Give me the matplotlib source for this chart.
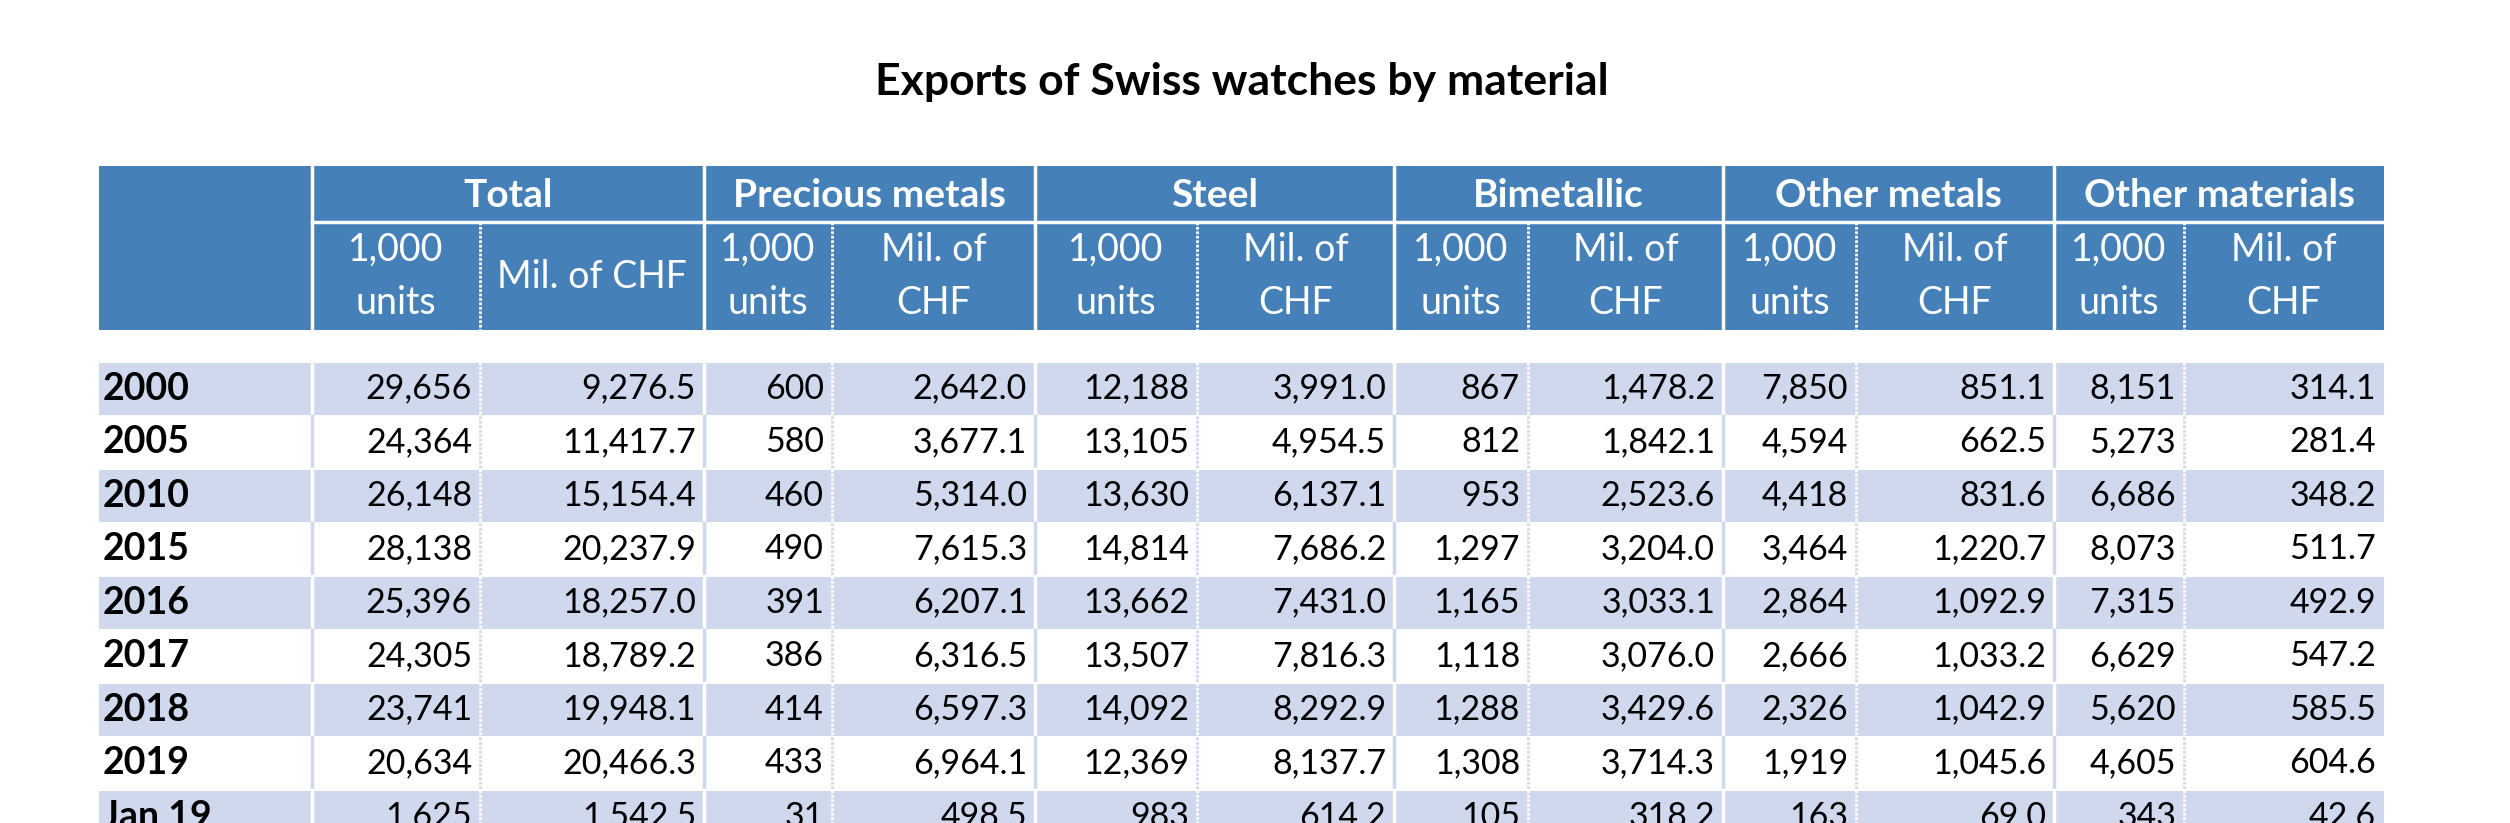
import matplotlib.pyplot as plt
from matplotlib.patches import Rectangle

plt.rcParams['font.family'] = ['Lato', 'DejaVu Sans']

title = 'Exports of Swiss watches by material'
groups = ['Total', 'Precious metals', 'Steel', 'Bimetallic', 'Other metals', 'Other materials']
rows = ['2000', '2005', '2010', '2015', '2016', '2017', '2018', '2019', 'Jan 19']

total_units = [29656, 24364, 26148, 28138, 25396, 24305, 23741, 20634, 1625]
total_chf = [9276.5, 11417.7, 15154.4, 20237.9, 18257.0, 18789.2, 19948.1, 20466.3, 1542.5]
precious_units = [600, 580, 460, 490, 391, 386, 414, 433, 31]
precious_chf = [2642.0, 3677.1, 5314.0, 7615.3, 6207.1, 6316.5, 6597.3, 6964.1, 498.5]
steel_units = [12188, 13105, 13630, 14814, 13662, 13507, 14092, 12369, 983]
steel_chf = [3991.0, 4954.5, 6137.1, 7686.2, 7431.0, 7816.3, 8292.9, 8137.7, 614.2]
bimetal_units = [867, 812, 953, 1297, 1165, 1118, 1288, 1308, 105]
bimetal_chf = [1478.2, 1842.1, 2523.6, 3204.0, 3033.1, 3076.0, 3429.6, 3714.3, 318.2]
othermet_units = [7850, 4594, 4418, 3464, 2864, 2666, 2326, 1919, 163]
othermet_chf = [851.1, 662.5, 831.6, 1220.7, 1092.9, 1033.2, 1042.9, 1045.6, 69.0]
othermat_units = [8151, 5273, 6686, 8073, 7315, 6629, 5620, 4605, 343]
othermat_chf = [314.1, 281.4, 348.2, 511.7, 492.9, 547.2, 585.5, 604.6, 42.6]

columns = [total_units, total_chf, precious_units, precious_chf, steel_units, steel_chf,
           bimetal_units, bimetal_chf, othermet_units, othermet_chf, othermat_units, othermat_chf]

# layout in pixels
W, H = 2510, 823
edges = [99, 312, 480, 704, 832, 1035, 1197, 1394, 1528, 1723, 1856, 2054, 2184, 2384]
head_top, head_mid, head_bot = 166, 222, 330
data_top, row_h = 362, 53.5
blue = '#4581B8'
lav = '#D0D8EE'
sub_fs = 27

fig = plt.figure(figsize=(W / 100, H / 100), dpi=100)
ax = fig.add_axes([0, 0, 1, 1])
ax.set_xlim(0, W)
ax.set_ylim(H, 0)
ax.axis('off')

ax.text(1242, 82, title, ha='center', va='center', fontsize=32, fontweight='bold')

# header block
ax.add_patch(Rectangle((edges[0], head_top), edges[-1] - edges[0], head_bot - head_top,
                       color=blue, lw=0))
ax.plot([edges[1], edges[-1]], [head_mid, head_mid], color='white', lw=2.5)
for g in range(6):
    x0, xm, x1 = edges[1 + 2 * g], edges[2 + 2 * g], edges[3 + 2 * g]
    ax.plot([x0, x0], [head_top, head_bot], color='white', lw=2.5)
    ax.plot([xm, xm], [head_mid, head_bot], color='white', lw=2, ls=(0, (1, 0.6)))
    ax.text((x0 + x1) / 2, (head_top + head_mid) / 2 + 1, groups[g], ha='center', va='center',
            color='white', fontsize=28, fontweight='bold')
    ax.text((x0 + xm) / 2, 250, '1,000', ha='center', va='center', color='white', fontsize=sub_fs)
    ax.text((x0 + xm) / 2, 303, 'units', ha='center', va='center', color='white', fontsize=sub_fs)
    if g == 0:
        ax.text((xm + x1) / 2, 277, 'Mil. of CHF', ha='center', va='center', color='white',
                fontsize=sub_fs)
    else:
        ax.text((xm + x1) / 2, 250, 'Mil. of', ha='center', va='center', color='white',
                fontsize=sub_fs)
        ax.text((xm + x1) / 2, 303, 'CHF', ha='center', va='center', color='white', fontsize=sub_fs)

# data rows
for i, r in enumerate(rows):
    y0 = data_top + i * row_h
    yc = y0 + row_h / 2
    shaded = i % 2 == 0
    if shaded:
        ax.add_patch(Rectangle((edges[0], y0 + 1), edges[-1] - edges[0], row_h - 2,
                               color=lav, lw=0))
    line_col = 'white' if shaded else lav
    for g in range(6):
        x0, xm = edges[1 + 2 * g], edges[2 + 2 * g]
        ax.plot([x0, x0], [y0, y0 + row_h], color=line_col, lw=2.5)
        ax.plot([xm, xm], [y0, y0 + row_h], color=line_col, lw=2, ls=(0, (1, 0.6)))
    ax.text(edges[0] + 4, yc, r, ha='left', va='center', fontsize=27, fontweight='bold')
    for c, vals in enumerate(columns):
        v = vals[i]
        s = f'{v:,}' if c % 2 == 0 else f'{v:,.1f}'
        ax.text(edges[c + 2] - 8, yc, s, ha='right', va='center', fontsize=24.5)

fig.savefig('out.png', dpi=100)
